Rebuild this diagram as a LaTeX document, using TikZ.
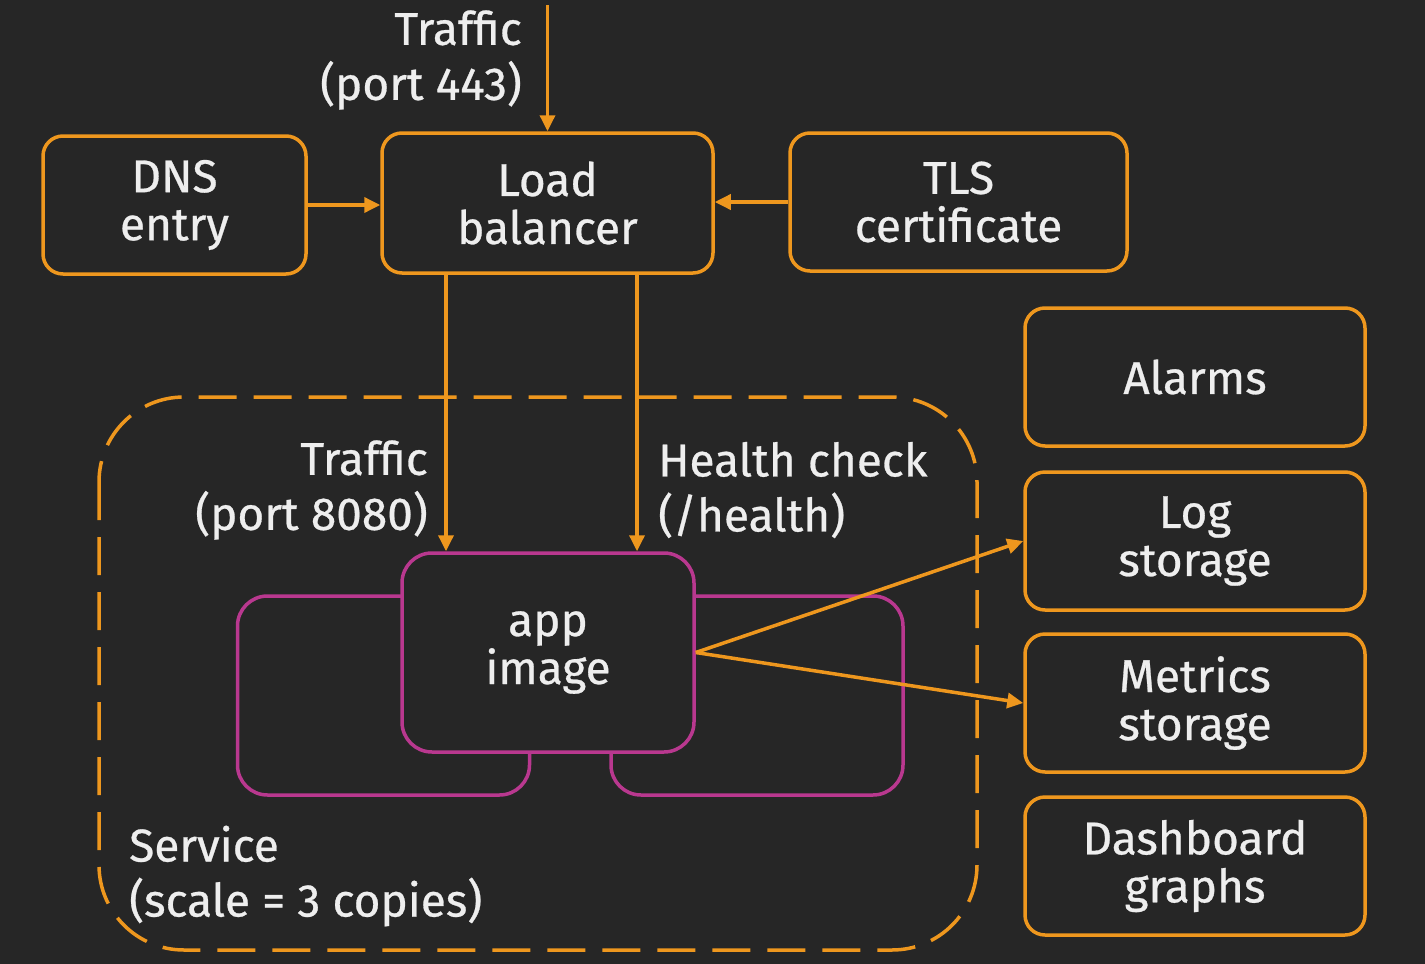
\documentclass[tikz,border=0pt]{standalone}
\usepackage{fontspec}
\setmainfont{Fira Sans}[FakeBold=0.6,AutoFakeBold=0.6]
\usetikzlibrary{arrows.meta}
\definecolor{bgc}{HTML}{262626}
\definecolor{org}{HTML}{EE971E}
\definecolor{mag}{HTML}{B9388F}
\definecolor{txt}{HTML}{EEEEEE}
\tikzset{
  box/.style={draw=org, line width=3.5pt, rounded corners=20pt, fill=bgc, text=txt,
    align=center, inner sep=0pt, font=\fontsize{46}{48}\selectfont\bfseries},
  appbox/.style={draw=mag, line width=3.5pt, rounded corners=30pt, fill=bgc, text=txt,
    align=center, inner sep=0pt, minimum width=292pt, minimum height=199pt,
    font=\fontsize{46}{48}\selectfont\bfseries},
  lbl/.style={text=txt, inner sep=0pt, font=\fontsize{46}{55}\selectfont\bfseries},
  arr/.style={draw=org, line width=3.5pt, -{Triangle[length=16pt,width=15pt]}},
  svc/.style={draw=org, line width=3.5pt, rounded corners=85pt, dash pattern=on 38pt off 17pt},
}
\begin{document}
\begin{tikzpicture}[x=1pt,y=-1pt]
\fill[bgc] (0,0) rectangle (1425,964);
\useasboundingbox (0,0) rectangle (1425,964);

% service dashed container
\draw[svc] (99,397) rectangle (977,950);

% top boxes
\node[box, minimum width=263pt, minimum height=138pt] (dns) at (174.5,205) {DNS\\entry};
\node[box, minimum width=331pt, minimum height=140pt] (lb) at (547.5,203) {Load\\balancer};
\node[box, minimum width=337pt, minimum height=138pt] (tls) at (958.5,202) {TLS\\certificate};

% right boxes
\node[box, minimum width=340pt, minimum height=138pt] (alarms) at (1195,377) {Alarms};
\node[box, minimum width=340pt, minimum height=138pt] (log) at (1195,541) {Log\\storage};
\node[box, minimum width=340pt, minimum height=138pt] (metrics) at (1195,703) {Metrics\\storage};
\node[box, minimum width=340pt, minimum height=138pt] (dash) at (1195,866) {Dashboard\\graphs};

% app copies
\node[appbox] (backl) at (383.5,695.5) {};
\node[appbox] (backr) at (757,695.5) {};
\node[appbox] (app) at (548,652.5) {app\\image};

% labels
\node[lbl, align=right, anchor=east] (t443) at (522,60) {Traffic\\(port 443)};
\node[lbl, align=right, anchor=east] (t8080) at (428,490) {Traffic\\(port 8080)};
\node[lbl, align=left, anchor=west] (hc) at (658,490) {Health check\\(/health)};
\node[lbl, align=left, anchor=west] (svcl) at (129,876) {Service\\(scale = 3 copies)};

% connectors
\coordinate (in) at (547.5,5);
\coordinate (tx) at (446,0);
\coordinate (hx) at (637,0);
\draw[arr] (in) -- (lb.north);
\draw[arr] (dns.east) -- (dns.east -| lb.west);
\draw[arr] (tls.west) -- (tls.west -| lb.east);
\draw[arr] (lb.south -| tx) -- (app.north -| tx);
\draw[arr] (lb.south -| hx) -- (app.north -| hx);
\draw[arr] (app.east) -- (log.west);
\draw[arr] (app.east) -- (metrics.west);
\end{tikzpicture}
\end{document}
